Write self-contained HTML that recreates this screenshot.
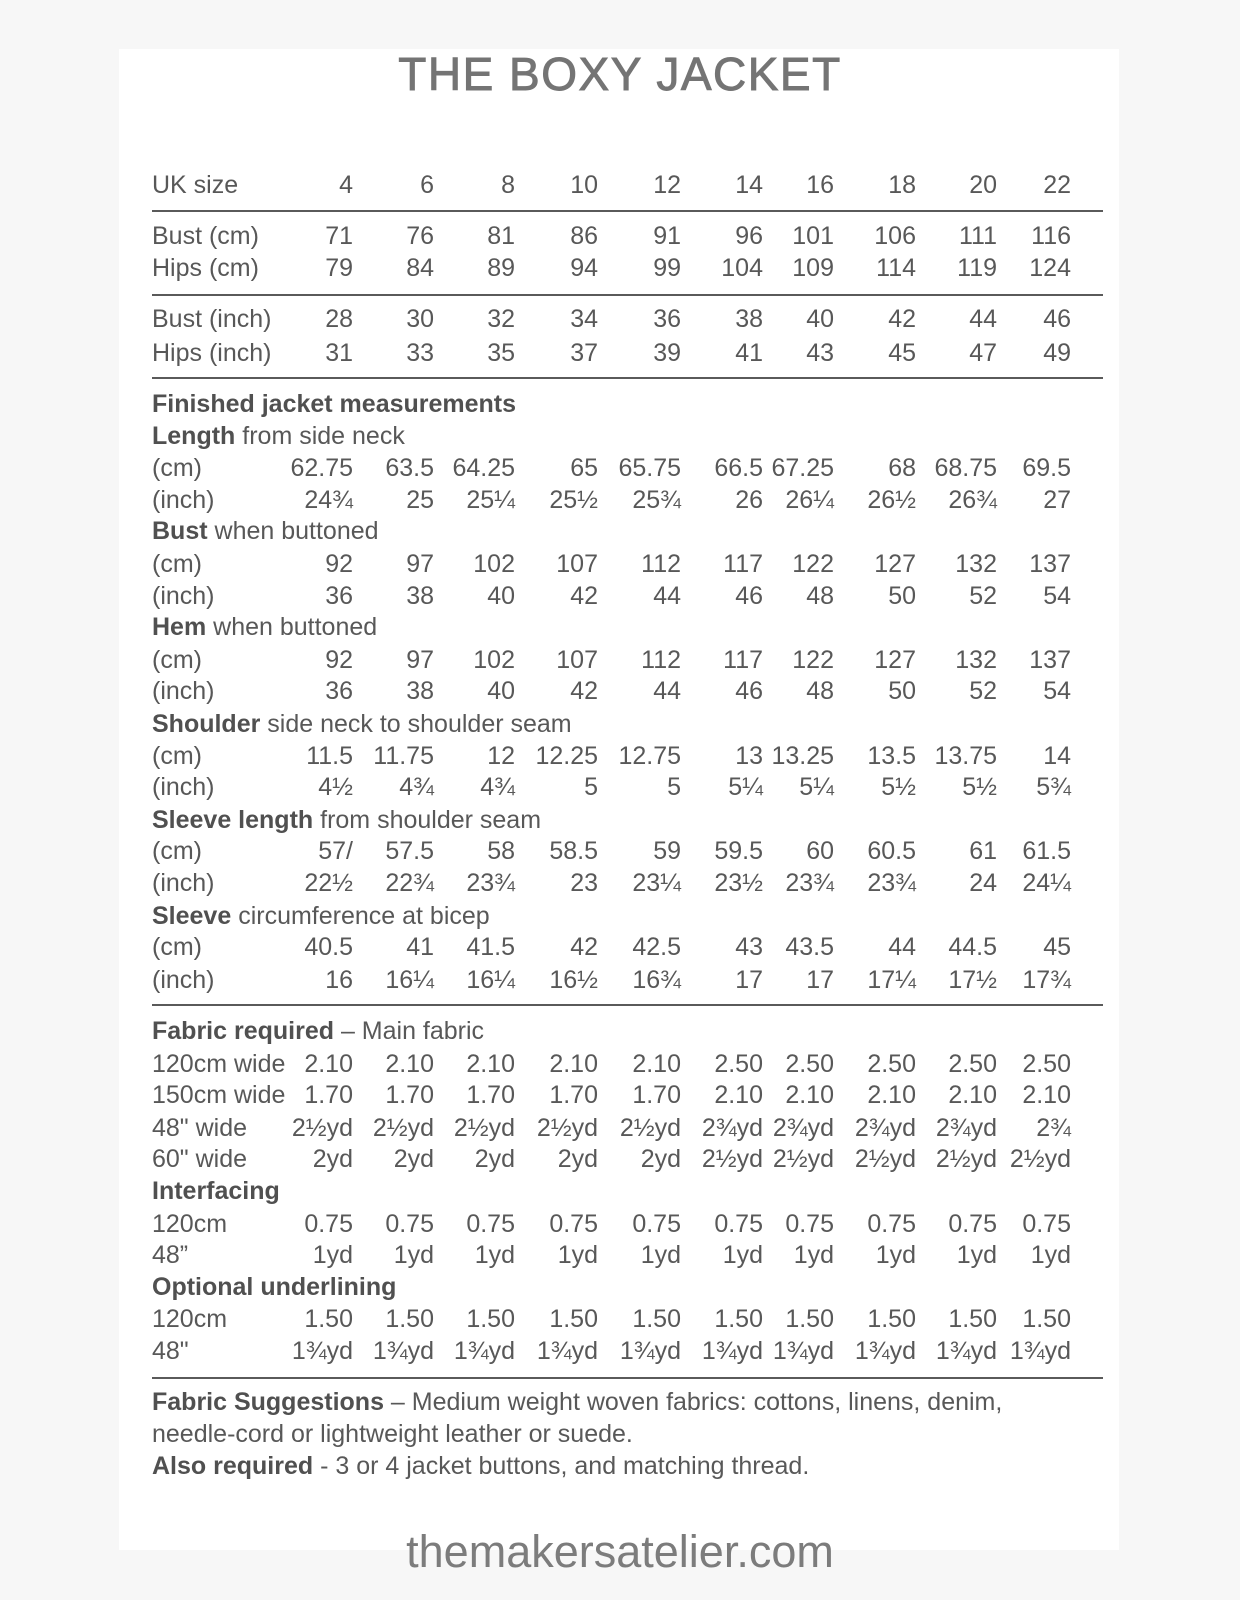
<!DOCTYPE html>
<html><head><meta charset="utf-8"><style>
*{margin:0;padding:0}
body{width:1240px;height:1600px;background:#f7f7f7;position:relative;overflow:hidden;font-family:"Liberation Sans",sans-serif;color:#585858}
.card{position:absolute;left:119px;top:49px;width:1000px;height:1501px;background:#fff}
.t{position:absolute;left:0;width:1240px;text-align:center;top:44px;font-size:46px;letter-spacing:1.5px;color:#747474;line-height:60px;-webkit-text-stroke:0.9px #747474}
.u{position:absolute;left:0;width:1240px;text-align:center;top:1527px;font-size:45px;color:#7c7c7c;line-height:50px}
.r{position:absolute;left:0;width:1240px;height:30px;line-height:30px;font-size:25px;margin-top:-15px}
.r b{position:absolute;left:152px;font-weight:normal;white-space:nowrap}
.r b s{text-decoration:none;font-weight:bold;color:#505050}
.r i{font-style:normal;position:absolute;white-space:nowrap}
.r i:nth-of-type(1){right:887px}.r i:nth-of-type(2){right:806px}.r i:nth-of-type(3){right:725px}
.r i:nth-of-type(4){right:642px}.r i:nth-of-type(5){right:559px}.r i:nth-of-type(6){right:477px}
.r i:nth-of-type(7){right:406px}.r i:nth-of-type(8){right:324px}.r i:nth-of-type(9){right:243px}
.r i:nth-of-type(10){right:169px}
.l{position:absolute;left:152px;width:951px;height:2px;background:#5a5a5a}
.p{position:absolute;left:152px;font-size:25px;line-height:32px;top:1386px;color:#585858;white-space:nowrap}
.p s{text-decoration:none;font-weight:bold;color:#505050}
</style></head><body>
<div class="card"></div>
<div class="t">THE BOXY JACKET</div>
<div class="r" style="top:185px"><b>UK size</b><i>4</i><i>6</i><i>8</i><i>10</i><i>12</i><i>14</i><i>16</i><i>18</i><i>20</i><i>22</i></div>
<div class="l" style="top:210px"></div>
<div class="r" style="top:236px"><b>Bust (cm)</b><i>71</i><i>76</i><i>81</i><i>86</i><i>91</i><i>96</i><i>101</i><i>106</i><i>111</i><i>116</i></div>
<div class="r" style="top:268px"><b>Hips (cm)</b><i>79</i><i>84</i><i>89</i><i>94</i><i>99</i><i>104</i><i>109</i><i>114</i><i>119</i><i>124</i></div>
<div class="l" style="top:294px"></div>
<div class="r" style="top:319px"><b>Bust (inch)</b><i>28</i><i>30</i><i>32</i><i>34</i><i>36</i><i>38</i><i>40</i><i>42</i><i>44</i><i>46</i></div>
<div class="r" style="top:353px"><b>Hips (inch)</b><i>31</i><i>33</i><i>35</i><i>37</i><i>39</i><i>41</i><i>43</i><i>45</i><i>47</i><i>49</i></div>
<div class="l" style="top:377px"></div>
<div class="r" style="top:404px"><b><s>Finished jacket measurements</s></b></div>
<div class="r" style="top:436px"><b><s>Length</s> from side neck</b></div>
<div class="r" style="top:468px"><b>(cm)</b><i>62.75</i><i>63.5</i><i>64.25</i><i>65</i><i>65.75</i><i>66.5</i><i>67.25</i><i>68</i><i>68.75</i><i>69.5</i></div>
<div class="r" style="top:500px"><b>(inch)</b><i>24¾</i><i>25</i><i>25¼</i><i>25½</i><i>25¾</i><i>26</i><i>26¼</i><i>26½</i><i>26¾</i><i>27</i></div>
<div class="r" style="top:531px"><b><s>Bust</s> when buttoned</b></div>
<div class="r" style="top:564px"><b>(cm)</b><i>92</i><i>97</i><i>102</i><i>107</i><i>112</i><i>117</i><i>122</i><i>127</i><i>132</i><i>137</i></div>
<div class="r" style="top:596px"><b>(inch)</b><i>36</i><i>38</i><i>40</i><i>42</i><i>44</i><i>46</i><i>48</i><i>50</i><i>52</i><i>54</i></div>
<div class="r" style="top:627px"><b><s>Hem</s> when buttoned</b></div>
<div class="r" style="top:660px"><b>(cm)</b><i>92</i><i>97</i><i>102</i><i>107</i><i>112</i><i>117</i><i>122</i><i>127</i><i>132</i><i>137</i></div>
<div class="r" style="top:691px"><b>(inch)</b><i>36</i><i>38</i><i>40</i><i>42</i><i>44</i><i>46</i><i>48</i><i>50</i><i>52</i><i>54</i></div>
<div class="r" style="top:724px"><b><s>Shoulder</s> side neck to shoulder seam</b></div>
<div class="r" style="top:756px"><b>(cm)</b><i>11.5</i><i>11.75</i><i>12</i><i>12.25</i><i>12.75</i><i>13</i><i>13.25</i><i>13.5</i><i>13.75</i><i>14</i></div>
<div class="r" style="top:787px"><b>(inch)</b><i>4½</i><i>4¾</i><i>4¾</i><i>5</i><i>5</i><i>5¼</i><i>5¼</i><i>5½</i><i>5½</i><i>5¾</i></div>
<div class="r" style="top:820px"><b><s>Sleeve length</s> from shoulder seam</b></div>
<div class="r" style="top:851px"><b>(cm)</b><i>57/</i><i>57.5</i><i>58</i><i>58.5</i><i>59</i><i>59.5</i><i>60</i><i>60.5</i><i>61</i><i>61.5</i></div>
<div class="r" style="top:883px"><b>(inch)</b><i>22½</i><i>22¾</i><i>23¾</i><i>23</i><i>23¼</i><i>23½</i><i>23¾</i><i>23¾</i><i>24</i><i>24¼</i></div>
<div class="r" style="top:916px"><b><s>Sleeve</s> circumference at bicep</b></div>
<div class="r" style="top:947px"><b>(cm)</b><i>40.5</i><i>41</i><i>41.5</i><i>42</i><i>42.5</i><i>43</i><i>43.5</i><i>44</i><i>44.5</i><i>45</i></div>
<div class="r" style="top:980px"><b>(inch)</b><i>16</i><i>16¼</i><i>16¼</i><i>16½</i><i>16¾</i><i>17</i><i>17</i><i>17¼</i><i>17½</i><i>17¾</i></div>
<div class="l" style="top:1004px"></div>
<div class="r" style="top:1031px"><b><s>Fabric required</s> – Main fabric</b></div>
<div class="r" style="top:1064px"><b>120cm wide</b><i>2.10</i><i>2.10</i><i>2.10</i><i>2.10</i><i>2.10</i><i>2.50</i><i>2.50</i><i>2.50</i><i>2.50</i><i>2.50</i></div>
<div class="r" style="top:1095px"><b>150cm wide</b><i>1.70</i><i>1.70</i><i>1.70</i><i>1.70</i><i>1.70</i><i>2.10</i><i>2.10</i><i>2.10</i><i>2.10</i><i>2.10</i></div>
<div class="r" style="top:1128px"><b>48" wide</b><i>2½yd</i><i>2½yd</i><i>2½yd</i><i>2½yd</i><i>2½yd</i><i>2¾yd</i><i>2¾yd</i><i>2¾yd</i><i>2¾yd</i><i>2¾</i></div>
<div class="r" style="top:1159px"><b>60" wide</b><i>2yd</i><i>2yd</i><i>2yd</i><i>2yd</i><i>2yd</i><i>2½yd</i><i>2½yd</i><i>2½yd</i><i>2½yd</i><i>2½yd</i></div>
<div class="r" style="top:1191px"><b><s>Interfacing</s></b></div>
<div class="r" style="top:1224px"><b>120cm</b><i>0.75</i><i>0.75</i><i>0.75</i><i>0.75</i><i>0.75</i><i>0.75</i><i>0.75</i><i>0.75</i><i>0.75</i><i>0.75</i></div>
<div class="r" style="top:1255px"><b>48”</b><i>1yd</i><i>1yd</i><i>1yd</i><i>1yd</i><i>1yd</i><i>1yd</i><i>1yd</i><i>1yd</i><i>1yd</i><i>1yd</i></div>
<div class="r" style="top:1287px"><b><s>Optional underlining</s></b></div>
<div class="r" style="top:1319px"><b>120cm</b><i>1.50</i><i>1.50</i><i>1.50</i><i>1.50</i><i>1.50</i><i>1.50</i><i>1.50</i><i>1.50</i><i>1.50</i><i>1.50</i></div>
<div class="r" style="top:1351px"><b>48"</b><i>1¾yd</i><i>1¾yd</i><i>1¾yd</i><i>1¾yd</i><i>1¾yd</i><i>1¾yd</i><i>1¾yd</i><i>1¾yd</i><i>1¾yd</i><i>1¾yd</i></div>
<div class="l" style="top:1377px"></div>
<div class="p"><s>Fabric Suggestions</s> – Medium weight woven fabrics: cottons, linens, denim,<br>needle-cord or lightweight leather or suede.<br><s>Also required</s> - 3 or 4 jacket buttons, and matching thread.</div>
<div class="u">themakersatelier.com</div>
</body></html>
